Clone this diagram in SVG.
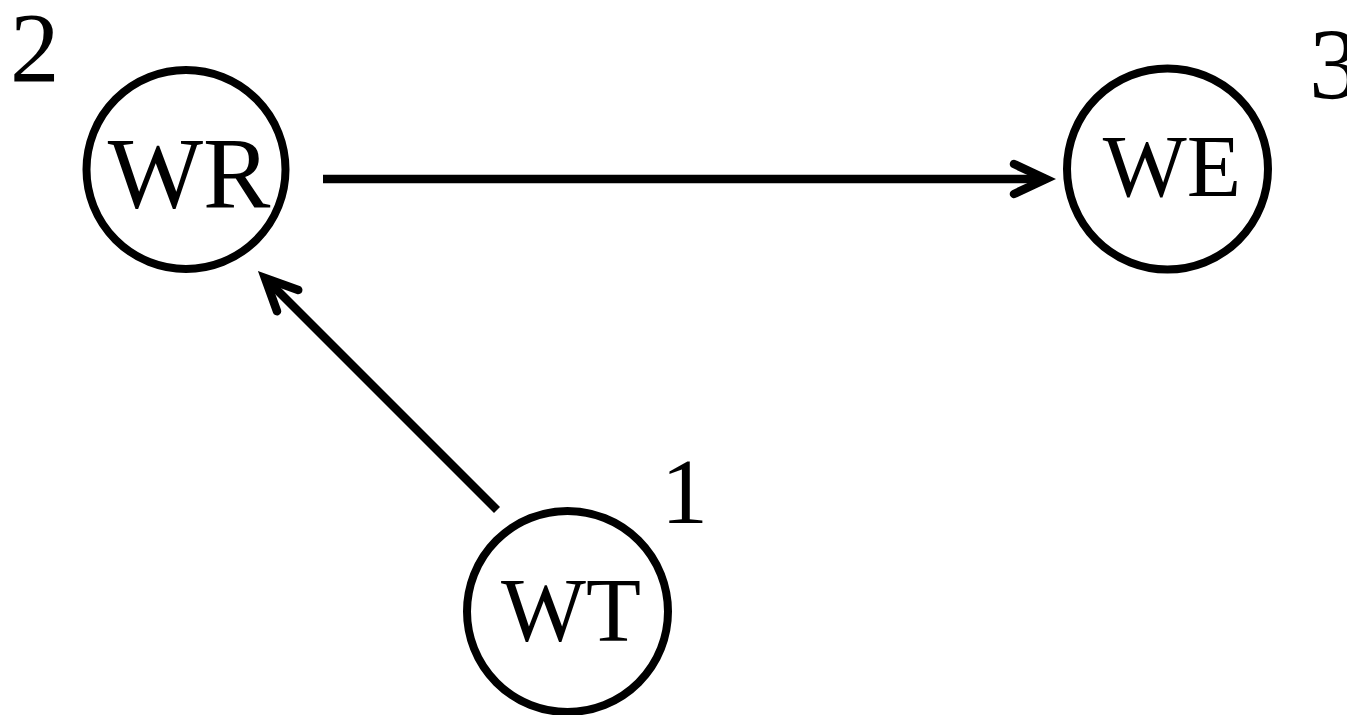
<svg xmlns="http://www.w3.org/2000/svg" width="1347" height="715" viewBox="0 0 1347 715">
  <style>
    .node circle { fill: #fff; stroke: #000; stroke-width: 8; }
    .lbl { font-family: "Liberation Serif", "Times New Roman", serif; fill: #000; }
    .mid { text-anchor: middle; }
    .edge { stroke: #000; stroke-width: 8.5; fill: none; }
  </style>
  <defs>
    <marker id="arrow" markerUnits="userSpaceOnUse" markerWidth="60" markerHeight="60" refX="0" refY="0" viewBox="-45 -30 60 60" orient="auto" overflow="visible">
      <path d="M -32,-15 L 0,0 L -32,15" fill="none" stroke="#000" stroke-width="8.5" stroke-linecap="round" stroke-linejoin="miter"/>
    </marker>
  </defs>
  <rect width="1347" height="715" fill="#fff"/>
  <g id="connectors">
    <line class="edge" x1="323" y1="179" x2="1046" y2="179" marker-end="url(#arrow)"/>
    <line class="edge" x1="497" y1="510" x2="265" y2="278" marker-end="url(#arrow)"/>
  </g>
  <g id="node-WR" class="node">
    <circle cx="186" cy="169.5" r="99.5"/>
    <text class="lbl mid" x="189" y="208" font-size="101">WR</text>
    <text class="lbl" x="10" y="81" font-size="99">2</text>
  </g>
  <g id="node-WE" class="node">
    <circle cx="1167.5" cy="169" r="100.5"/>
    <text class="lbl mid" x="1172" y="196" font-size="89">WE</text>
    <text class="lbl" x="1309" y="99" font-size="102">3</text>
  </g>
  <g id="node-WT" class="node">
    <circle cx="567.5" cy="611.5" r="100.5"/>
    <text class="lbl mid" x="571" y="641" font-size="90">WT</text>
    <text class="lbl" x="661" y="523" font-size="94">1</text>
  </g>
</svg>
